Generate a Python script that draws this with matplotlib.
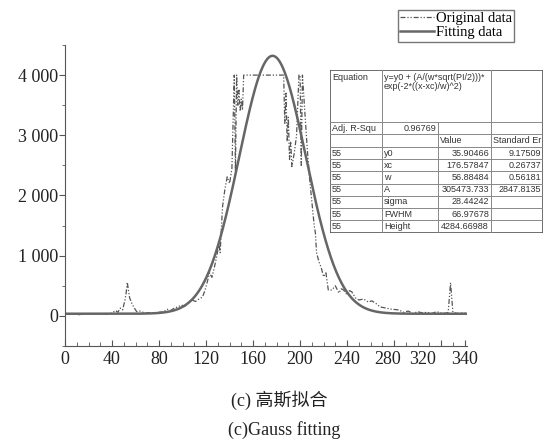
import numpy as np
import matplotlib
matplotlib.use('Agg')
import matplotlib.pyplot as plt
from matplotlib.ticker import MultipleLocator, FuncFormatter
from matplotlib.transforms import ScaledTranslation

plt.rcParams['font.family'] = ['Liberation Serif', 'Noto Sans CJK SC']

x_orig = [0, 4, 8, 12, 16, 20, 24, 28, 32, 36, 40, 43, 45, 47, 49, 51, 52, 53, 54, 55,
          57, 59, 61, 64, 68, 72, 76, 80, 84, 87, 90, 93, 96, 99, 102, 105, 108, 111, 114, 117,
          119, 121, 123, 125, 127, 129, 131, 132, 134, 136, 138, 140, 142, 144, 145, 146, 147, 148, 149, 150,
          151, 152, 156, 160, 165, 170, 175, 180, 184, 186, 187, 188, 189, 190, 191, 192, 193, 195, 197, 199,
          200, 201, 202, 204, 206, 208, 210, 212, 213, 214, 216, 218, 220, 222, 224, 227, 230, 233, 235, 237,
          240, 242, 244, 247, 250, 254, 258, 261, 264, 268, 273, 278, 284, 288, 292, 296, 300, 304, 308, 312,
          316, 320, 324, 326, 327, 328, 329, 330, 334, 338, 341]
y_orig = [30, 25, 40, 20, 35, 30, 40, 25, 35, 30, 45, 90, 60, 130, 100, 260, 380, 560, 420, 300,
          200, 130, 70, 80, 45, 55, 35, 60, 70, 110, 90, 130, 150, 180, 160, 230, 265, 240, 280, 315,
          420, 560, 715, 640, 800, 980, 1200, 1050, 1810, 2100, 2310, 2200, 2450, 4000, 2400, 4000, 3500, 3750, 3400, 3600,
          3420, 4000, 4000, 4000, 4000, 4000, 4000, 4000, 4000, 4000, 3200, 3700, 2900, 3300, 2600, 2900, 2480, 2700, 3000, 4000,
          4000, 2500, 4000, 3400, 2800, 2300, 1900, 1500, 1380, 1050, 900, 800, 650, 715, 430, 430, 500, 380, 450, 430,
          350, 420, 400, 300, 265, 280, 230, 250, 215, 150, 130, 110, 100, 60, 80, 40, 70, 50, 60, 40,
          70, 50, 45, 60, 300, 550, 300, 60, 40, 50, 45]

# fit parameters from the result table
y0, xc, w, A = 35.90466, 176.57847, 56.88484, 305473.733

x_ticks = [0, 40, 80, 120, 160, 200, 240, 280, 320, 340]

table_rows = [
    ['Adj. R-Squ', '0.96769', '', ''],
    ['', '', 'Value', 'Standard Er'],
    ['55', 'y0', '35.90466', '9.17509'],
    ['55', 'xc', '176.57847', '0.26737'],
    ['55', 'w', '56.88484', '0.56181'],
    ['55', 'A', '305473.733', '2847.8135'],
    ['55', 'sigma', '28.44242', ''],
    ['55', 'FWHM', '66.97678', ''],
    ['55', 'Height', '4284.66988', ''],
]
equation = 'y=y0 + (A/(w*sqrt(PI/2)))*\nexp(-2*((x-xc)/w)^2)'

fig = plt.figure(figsize=(5.45, 4.44), dpi=100)
ax = fig.add_axes([65/545, 1-346/444, 402/545, 301/444])

x_fit = np.linspace(0, 342, 600)
y_fit = y0 + A/(w*np.sqrt(np.pi/2))*np.exp(-2*((x_fit-xc)/w)**2)

l1, = ax.plot(x_orig, y_orig, color='#555555', lw=0.9, dashes=(4, 1.5, 1, 1.5, 1, 1.5))
l2, = ax.plot(x_fit, y_fit, color='#666666', lw=1.8)

ax.set_xlim(0, 342)
ax.set_ylim(-500, 4500)
ax.set_xticks(x_ticks)
ax.xaxis.set_minor_locator(MultipleLocator(10))
ax.yaxis.set_major_locator(MultipleLocator(1000))
ax.yaxis.set_minor_locator(MultipleLocator(500))
ax.yaxis.set_major_formatter(FuncFormatter(lambda v, p: f'{int(v):,}'.replace(',', ' ')))
for s in ['top', 'right']:
    ax.spines[s].set_visible(False)
for s in ['left', 'bottom']:
    ax.spines[s].set_color('#555555')
ax.tick_params(axis='x', which='both', direction='in', colors='#555555', labelcolor='#222222', labelsize=13)
ax.tick_params(axis='x', which='major', length=4)
ax.tick_params(axis='x', which='minor', length=3)
ax.tick_params(axis='y', which='both', direction='out', colors='#555555', labelcolor='#222222', labelsize=13, pad=1)
ax.tick_params(axis='y', which='major', length=4)
ax.tick_params(axis='y', which='minor', length=2)

# the crowded labels at the right end sit a little to the left, as in the original
shifts = {280: -6, 320: -19}
for tick, lab in zip(x_ticks, ax.get_xticklabels()):
    if tick in shifts:
        lab.set_transform(lab.get_transform() + ScaledTranslation(shifts[tick]/100, 0, fig.dpi_scale_trans))

fig.legend([l1, l2], ['Original data', 'Fitting data'], loc='upper left',
           bbox_to_anchor=(398/545, 1-10/444), fontsize=10.5, frameon=True, fancybox=False,
           edgecolor='#555555', handlelength=2.3, handletextpad=0.15, borderpad=0.15,
           labelspacing=0.05, borderaxespad=0)

# result table, drawn in pixel units
tax = fig.add_axes([330/545, 1-233/444, 213/545, 163/444])
tax.set_xlim(330, 543)
tax.set_ylim(233, 70)
tax.axis('off')
cols = [330, 382, 438, 491, 543]
rows = [70, 122, 134, 147] + [147 + 12.2*i for i in range(1, 8)]
lc = '#888888'
tfont = dict(family='Liberation Sans', fontsize=6.5, color='#333333')
tax.plot([330, 543, 543, 330, 330], [70, 70, 233, 233, 70], color='#555555', lw=1.2)
for r in rows[1:-1]:
    tax.plot([330, 543], [r, r], color=lc, lw=0.7)
for c in cols[1:-1]:
    y_top = 70 if c != 438 else 122
    tax.plot([c, c], [y_top, 233], color=lc, lw=0.7)
tax.text(332, 73, 'Equation', va='top', ha='left', **tfont)
tax.text(384, 73, equation, va='top', ha='left', linespacing=0.95, **tfont)
for i, row in enumerate(table_rows):
    yc = (rows[i+1] + rows[i+2]) / 2
    for j, cell in enumerate(row):
        if not cell:
            continue
        numeric = cell[0].isdigit() and j > 0
        if numeric:
            tax.text(cols[j+1]-2, yc, cell, va='center', ha='right', **tfont)
        else:
            tax.text(cols[j]+2, yc, cell, va='center', ha='left', **tfont)

fig.text(279/545, 1-400/444, '(c) 高斯拟合', ha='center', va='center', fontsize=13, color='#222222')
fig.text(284/545, 1-430/444, '(c)Gauss fitting', ha='center', va='center', fontsize=13, color='#222222')

fig.savefig('out.png', dpi=100)
